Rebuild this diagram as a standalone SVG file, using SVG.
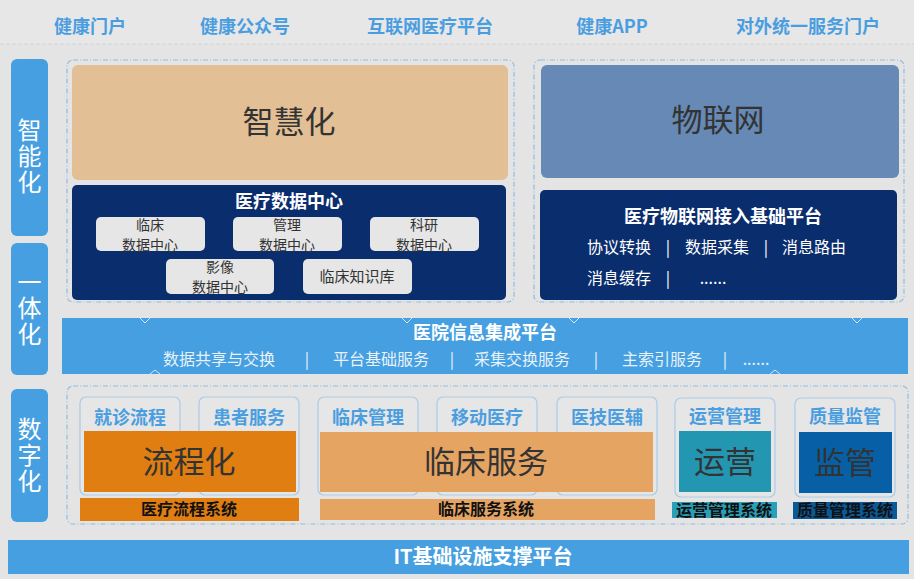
<svg xmlns="http://www.w3.org/2000/svg" width="914" height="579" viewBox="0 0 914 579">
<style>
text{font-family:"Noto Sans CJK SC","Noto Sans",sans-serif;text-anchor:middle}
.hdr{font-size:18px;font-weight:700;fill:#4a9ee0}
.side{font-size:24px;fill:#ffffff;writing-mode:vertical-rl;letter-spacing:2px}
.big{font-size:31px;fill:#333333}
.wt{fill:#ffffff;font-weight:700;font-size:18px}
.sub{font-size:14px;fill:#333333}
.row{font-size:16px;fill:#ffffff}
.rowl{font-size:16px;fill:#e8f2fb}
.ct{font-size:18px;font-weight:700;fill:#4a9ee0}
.sys{font-size:16px;font-weight:700;fill:#111111}
.dash{fill:none;stroke:#8fbde3;stroke-width:1.2;stroke-dasharray:5 2 1 2}
.card{fill:#e6e6e6;stroke:#a9cbe8;stroke-width:1.2}
.sb{fill:#e6e6e6}
.blue{fill:#469fe0}
</style>
<rect x="0" y="0" width="914" height="579" fill="#e4e4e4"/>
<rect x="0" y="0" width="914" height="44" fill="#e7e7e7"/>
<line x1="0" y1="44" x2="914" y2="44" stroke="#d4d4d4" stroke-dasharray="4 2"/>

<g id="header">
<text class="hdr" x="90" y="33">健康门户</text>
<text class="hdr" x="245" y="33">健康公众号</text>
<text class="hdr" x="430" y="33">互联网医疗平台</text>
<text class="hdr" x="612" y="33">健康APP</text>
<text class="hdr" x="808" y="33">对外统一服务门户</text>
</g>

<g id="side-zhinenghua">
<rect class="blue" x="11" y="59" width="37" height="177" rx="6"/>
<text class="side" x="29.5" y="157">智能化</text>
</g>
<g id="side-yitihua">
<rect class="blue" x="11" y="243" width="37" height="132" rx="6"/>
<text class="side" x="29.5" y="309">一体化</text>
</g>
<g id="side-shuzihua">
<rect class="blue" x="11" y="389" width="37" height="133" rx="6"/>
<text class="side" x="29.5" y="456">数字化</text>
</g>

<g id="zhihuihua-group">
<rect class="dash" x="67" y="60" width="447" height="242" rx="6"/>
<g id="zhihuihua">
<rect x="72" y="65" width="436" height="115" rx="6" fill="#e2bf95"/>
<text class="big" x="289" y="133">智慧化</text>
</g>
<g id="data-center">
<rect x="72" y="185" width="434" height="115" rx="5" fill="#0a2d6e"/>
<text class="wt" x="289" y="208">医疗数据中心</text>
<g id="dc-clinical"><rect class="sb" x="96" y="217" width="109" height="34" rx="5"/>
<text class="sub"><tspan x="150" y="229.5">临床</tspan><tspan x="150" y="250.3">数据中心</tspan></text></g>
<g id="dc-mgmt"><rect class="sb" x="233" y="217" width="109" height="34" rx="5"/>
<text class="sub"><tspan x="287" y="229.5">管理</tspan><tspan x="287" y="250.3">数据中心</tspan></text></g>
<g id="dc-research"><rect class="sb" x="370" y="217" width="109" height="34" rx="5"/>
<text class="sub"><tspan x="424" y="229.5">科研</tspan><tspan x="424" y="250.3">数据中心</tspan></text></g>
<g id="dc-image"><rect class="sb" x="166" y="259" width="108" height="35" rx="5"/>
<text class="sub"><tspan x="220" y="271.5">影像</tspan><tspan x="220" y="292.3">数据中心</tspan></text></g>
<g id="dc-knowledge"><rect class="sb" x="303" y="259" width="109" height="35" rx="5"/>
<text class="sub" x="357" y="282" style="font-size:15px">临床知识库</text></g>
</g>
</g>

<g id="iot-group">
<rect class="dash" x="534" y="60" width="370" height="242" rx="6"/>
<g id="iot">
<rect x="541" y="65" width="358" height="113" rx="6" fill="#6689b6"/>
<text class="big" x="718" y="131">物联网</text>
</g>
<g id="iot-platform">
<rect x="540" y="190" width="357" height="110" rx="5" fill="#0a2d6e"/>
<text class="wt" x="723" y="223">医疗物联网接入基础平台</text>
<text class="row" x="619" y="253">协议转换</text>
<text class="row" x="668" y="253">|</text>
<text class="row" x="717" y="253">数据采集</text>
<text class="row" x="766" y="253">|</text>
<text class="row" x="814" y="253">消息路由</text>
<text class="row" x="619" y="284">消息缓存</text>
<text class="row" x="668" y="284">|</text>
<text class="row" x="713" y="284">......</text>
</g>
</g>

<g id="integration">
<rect class="blue" x="62" y="318" width="846" height="56"/>
<text class="wt" x="485" y="339">医院信息集成平台</text>
<text class="rowl" x="219" y="365">数据共享与交换</text>
<text class="rowl" x="307" y="365">|</text>
<text class="rowl" x="381" y="365">平台基础服务</text>
<text class="rowl" x="452" y="365">|</text>
<text class="rowl" x="522" y="365">采集交换服务</text>
<text class="rowl" x="596" y="365">|</text>
<text class="rowl" x="662" y="365">主索引服务</text>
<text class="rowl" x="725" y="365">|</text>
<text class="rowl" x="756" y="365">......</text>
</g>

<g id="connectors" fill="none" stroke="#d6e8f7" stroke-width="1">
<polyline points="140,318 145,323 150,318"/>
<polyline points="402,318 407,323 412,318"/>
<polyline points="569,318 574,323 579,318"/>
<polyline points="852,318 857,323 862,318"/>
<polyline points="150,374 155,370 160,374"/>
<polyline points="770,374 775,370 780,374"/>
</g>

<g id="digital-group">
<rect class="dash" x="67" y="386" width="841" height="138" rx="6"/>
<g id="card-jiuzhen"><rect class="card" x="80" y="397" width="100" height="98" rx="6"/><text class="ct" x="130" y="424">就诊流程</text></g>
<g id="card-huanzhe"><rect class="card" x="199" y="397" width="100" height="98" rx="6"/><text class="ct" x="249" y="424">患者服务</text></g>
<g id="card-linchuang"><rect class="card" x="318" y="397" width="100" height="98" rx="6"/><text class="ct" x="368" y="424">临床管理</text></g>
<g id="card-yidong"><rect class="card" x="437" y="397" width="100" height="98" rx="6"/><text class="ct" x="487" y="424">移动医疗</text></g>
<g id="card-yiji"><rect class="card" x="557" y="397" width="100" height="98" rx="6"/><text class="ct" x="607" y="424">医技医辅</text></g>
<g id="card-yunying"><rect class="card" x="675" y="398" width="100" height="99" rx="6"/><text class="ct" x="725" y="423">运营管理</text></g>
<g id="card-zhiliang"><rect class="card" x="795" y="398" width="100" height="99" rx="6"/><text class="ct" x="845" y="423">质量监管</text></g>

<g id="liuchenghua">
<rect x="84" y="431" width="212" height="61" fill="#e07e12"/>
<text class="big" x="189" y="473">流程化</text>
<rect x="80" y="498" width="219" height="23" fill="#e07e12"/>
<text class="sys" x="189" y="515">医疗流程系统</text>
</g>
<g id="linchuangfuwu">
<rect x="320" y="432" width="333" height="60" fill="#e6a463"/>
<text class="big" x="486" y="473">临床服务</text>
<rect x="320" y="499" width="335" height="21" fill="#e6a463"/>
<text class="sys" x="486" y="515">临床服务系统</text>
</g>
<g id="yunying">
<rect x="679" y="431" width="92" height="61" fill="#2397b2"/>
<text class="big" x="725" y="473">运营</text>
<rect x="672" y="502" width="105" height="16" fill="#2aa0b8"/>
<text class="sys" x="724" y="516">运营管理系统</text>
</g>
<g id="jianguan">
<rect x="799" y="432" width="93" height="61" fill="#0760a6"/>
<text class="big" x="845" y="474">监管</text>
<rect x="793" y="502" width="104" height="17" fill="#0a5a9a"/>
<text class="sys" x="845" y="516">质量管理系统</text>
</g>
</g>

<g id="it-platform">
<rect class="blue" x="8" y="540" width="901" height="34"/>
<text class="wt" x="483" y="564" style="font-size:20px">IT基础设施支撑平台</text>
</g>
</svg>
